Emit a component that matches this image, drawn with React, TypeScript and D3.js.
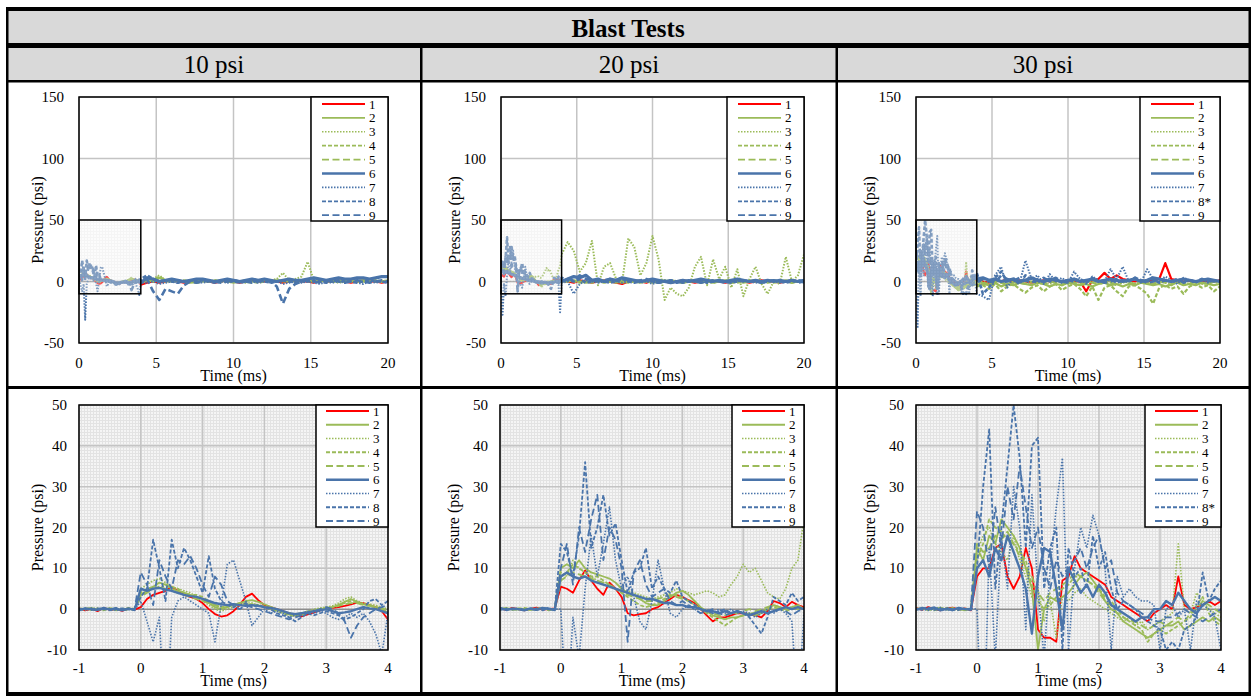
import React from 'react';
import * as d3 from 'd3';

// ---------- data ----------
const TEST_LABELS = ['10 psi', '20 psi', '30 psi'];
const LEGEND_A = ['1', '2', '3', '4', '5', '6', '7', '8', '9'];
const LEGEND_B = ['1', '2', '3', '4', '5', '6', '7', '8*', '9'];
const TOP_X_TICKS = [0, 5, 10, 15, 20];
const TOP_Y_TICKS = [-50, 0, 50, 100, 150];
const BOT_X_TICKS = [-1, 0, 1, 2, 3, 4];
const BOT_Y_TICKS = [-10, 0, 10, 20, 30, 40, 50];

// sample times: -1.0..4.0 ms every 0.1 ms, then 4.4..20 ms every 0.4 ms
const FINE_T = d3.range(51).map((i) => +(-1 + i * 0.1).toFixed(2));
const COARSE_T = d3.range(40).map((i) => +(4.4 + i * 0.4).toFixed(2));
const TIME = [...FINE_T, ...COARSE_T];

// ---- 10 psi (pressure, psi) ----
const p10_1 = [0.2,-0.3,0.1,-0.5,0.3,-0.2,0,-0.4,0.2,-0.1, 0.5,2.5,3.5,4,4.5,5.5,4.5,3.5,3,2.5,1.5,0,-1.2,-1.8,-1.5,-0.5,1,3,3.8,2.2,1,0.5,0,-0.5,-1,-1.5,-1.8,-1.3,-0.8,-0.3,0.2,0.3,0.5,0.8,1.2,1.6,1.5,1,0.5,-0.5,-2.5, -1,0,-1,0,1,0,-1,0,1,1,0,-1,0,1,0,-1,0,1,0,0,1,0,-1,0,1,0,0,-1,1,0,0,1,0,-1,0,1,0,0,-1,0];
const p10_2 = [-0.2,0.1,0.3,-0.1,0,0.2,-0.3,0.1,0,0.2, 3.5,4.5,5.5,6.5,6,5,4.5,4,3.5,3,2.5,1.5,0.5,0,0.5,1,1.5,2,2.2,1.8,1.2,0.6,0,-0.6,-1.2,-1.5,-1.2,-0.8,-0.5,0,0.3,0.5,1,1.8,2.5,1.8,1.2,1,0.5,0,-0.8, 1,0,3,1,0,1,0,-1,0,1,0,0,1,0,-1,0,1,0,0,1,0,1,0,0,1,0,1,0,0,1,1,0,0,1,0,1,1,0,0,1];
const p10_3 = [0.1,-0.2,0,0.3,-0.1,0.2,0,-0.2,0.1,0, 5,6,7,7.5,6.5,5.5,5,4.5,4,3,2,1,0,-0.5,0,0.5,1,1.5,1.5,1,0.8,0.2,-0.3,-0.8,-1.3,-1.5,-1,-0.5,0,0.3,0.5,0.8,1.5,2.5,3,2,1.5,1.2,1,0.5,0, 0,2,5,1,0,1,0,-1,0,1,0,1,0,0,1,0,-1,0,1,0,1,2,7,1,2,4,16,1,0,1,0,-1,0,1,0,0,1,0,1,0];
const p10_4 = [0,0.2,-0.1,0.1,-0.3,0.2,0.1,-0.1,0.3,0, 4,5,5.5,5,6,5.5,5,4,3.5,3.5,3,2,1,0.5,0.8,1.2,1.5,1.5,1.2,1,0.5,0,-0.5,-1,-1.5,-1.8,-1.5,-1,-0.5,0,0,0.5,1,1.5,2,1.5,1.2,0.8,0.5,0.2,-0.5, 2,1,4,1,0,0,1,0,-1,0,1,0,0,1,0,0,1,0,-1,0,0,1,0,1,0,1,1,0,0,1,0,0,1,0,0,1,0,1,0,0];
const p10_5 = [0.2,0,-0.2,0.1,0,-0.1,0.2,0,-0.3,0.1, 3,4,5,5.5,5,4.5,4,3.5,3,2.5,2,1.5,1,0.5,0.5,1,1.2,1,1,0.8,0.5,0.2,-0.2,-0.5,-1,-1.2,-1,-0.6,-0.3,0,0.2,0.4,0.8,1.2,1.5,1.5,1,0.8,0.5,0.2,0, 1,0,1,0,0,1,0,0,-1,0,0,1,0,0,1,0,0,-1,0,1,0,0,1,0,0,1,0,0,1,0,0,1,0,0,1,0,0,1,0,0];
const p10_6 = [-0.3,0.2,0,-0.2,0.3,-0.1,0.1,-0.3,0.2,-0.2, 5,4.5,5,5.2,4.8,4.5,4,3.5,3.2,3,2.5,2,1.5,1.2,1,1.2,1,0.8,1,0.8,0.5,0.3,0,-0.5,-1,-1.2,-1,-0.8,-0.5,-0.3,0,-0.5,-1,-0.8,-0.5,0,0.5,0.2,0,-0.5,-1, 3,2,0,1,2,1,0,1,2,2,1,0,1,2,1,0,1,2,1,2,1,0,1,2,1,1,2,3,2,1,2,3,2,2,3,3,2,3,4,4];
const p10_7 = [0,-0.2,0.3,0,-0.1,0.2,-0.3,0.1,0,-0.2, 2,-3,-8,-2,-31,-2,2,3,2,1,0,-1,-8,1,11,12,7,2,-4,-2,0,-1,-0.5,-1,-2,-1.5,-1,-0.5,-1,-0.5,-1,-2,-2.5,-2,-1,-2,-1,-3,-6,-11,-1, -1,0,-2,-1,0,-1,0,1,0,-1,0,-1,0,-1,0,-1,0,0,-1,0,-1,0,-2,-1,0,-1,0,-1,-2,0,-1,0,-1,0,-1,-2,0,-1,0,-1];
const p10_8 = [0.1,0,-0.2,0.2,0,-0.3,0.1,0.2,-0.1,0, 3,5,17,10,2,17,10,15,12,8,4,13,5,2,1,0.5,1,1.5,0.5,1,0.5,0,-1,-1.5,-2,-3,-2,-1,-1.5,-1,-0.5,-1,-1.5,-2.5,-2,-1,0,2,2.5,1,2, 5,2,0,1,0,-1,0,1,0,1,0,-1,0,1,0,-1,0,0,1,0,-1,0,1,0,-1,0,0,1,0,-1,0,1,0,0,-1,0,1,0,0,-1];
const p10_9 = [-0.1,0.2,0,-0.2,0.1,0,0.3,-0.2,0,0.1, 9,6,1,12,8,5,12,11,13,10,6,3,8,6,2,1,0,1,0.5,0,-0.5,-1,-1.5,-2,-2.5,-2,-1.5,-1,-0.5,0,0.5,0,-1,-3,-7,-4,-2,-1,0,0.5,1, 2,-8,-15,-6,-8,-10,-3,0,-1,0,1,0,-1,0,1,0,0,-1,0,1,0,-4,-18,-6,-2,0,1,0,-1,0,1,0,-1,0,1,0,-1,0,1,0];

// ---- 20 psi ----
const p20_1 = [0.2,-0.2,0.3,0,-0.3,0.1,0.4,-0.1,0,0.2, 5.5,5,4,7,9.5,7,5,3.5,6.5,5,3,-1,-1.5,-1.2,-1,0,0.5,1.5,2.5,3.5,3,2.2,1.5,0,-1.5,-3,-2,-2,-1.5,-1,-1,-1.2,-1.5,-2,-0.5,2,1.5,0.5,1.8,1,0.5, 0,-1,1,0,-1,0,1,0,-1,-2,0,1,0,-1,1,0,0,-1,0,1,0,-1,0,1,0,0,-1,0,1,0,-1,0,1,0,0,-1,0,1,0,0];
const p20_2 = [0,0.3,-0.1,0.2,0,-0.2,0.1,0.3,-0.1,0, 10,11,10,12,10,9,8.5,8,7.5,6.5,5,4,3.5,2.5,1.5,1,1,2,3,4,4.5,3.5,2,0.5,-0.5,-1.5,-2,-2.5,-2,-2,-1.5,-1,-1.5,-1,0,1,0.5,0,0.5,1,0, 0,1,0,-1,0,1,0,0,-1,0,1,0,-1,0,0,1,0,-1,0,1,0,0,-1,0,1,0,0,-1,0,1,0,0,-1,0,1,0,0,-1,0,0];
const p20_3 = [0.1,0,0.2,-0.2,0.1,0,-0.1,0.2,0,-0.2, 9,8,12,10,9,8,7,6,6,5,4,4.5,4,3.5,3,2.5,3,3.5,4,5,4.5,4,3.5,4,4.5,4,3,3.5,6,8,11,9,10,7,4,3,2.5,5,10,12,22, 32,25,8,15,33,-3,12,15,2,0,35,28,5,15,37,18,-15,-5,-10,-12,-5,12,20,-3,18,2,12,-5,10,-12,2,12,-2,-10,0,-2,20,0,5,22];
const p20_4 = [0.2,0,-0.2,0.1,0.3,-0.1,0,0.2,-0.3,0.1, 8,9,11,10,9,8,8,7,6,5,4,3,2,1,0.5,1,1.5,2.5,3,3.5,3,2,1,0,-1,-2,-3,-4,-3,-2,-1.5,-1,-1,-0.5,0,0.5,0,-0.5,0,0.5,0, 1,0,-1,0,1,0,-1,0,1,0,-1,0,1,0,0,-1,0,1,0,-1,0,1,0,0,-1,0,1,0,-1,0,1,0,0,-1,0,1,0,-1,0,1];
const p20_5 = [-0.1,0.2,0,-0.2,0.1,0.3,-0.2,0,0.1,-0.1, 7,8,9,8.5,8,7.5,7,6.5,6,5,4.5,3.5,3,2.5,2,2,2.5,3,3.5,3,2.5,2,1,0,-0.5,-1,-1.5,-1.5,-1,-1,-0.5,0,-0.5,0,0.5,1,0.5,0,0.5,0,0.5, 0,1,0,0,-1,0,1,0,0,-1,0,1,0,0,-1,0,1,0,0,-1,0,1,0,0,-1,0,1,0,0,-1,0,1,0,0,-1,0,1,0,0,-1];
const p20_6 = [0.3,-0.2,0.1,0,-0.3,0.2,-0.1,0.3,0,-0.2, 8,9,8,7.5,8,7,6.5,6,5.5,5,4.5,4,3.5,3,2.5,2.5,2,1.5,1.5,1,1,0.5,0.5,0,-0.5,-0.5,-1,-0.5,-1,-0.5,-1,-1.5,-1,-0.5,-1,-0.5,0,0.5,0,0.5,0, 2,4,3,5,1,2,0,2,1,3,2,1,0,1,2,1,0,-1,0,1,0,1,2,1,0,1,0,1,2,1,0,1,0,1,0,1,0,1,0,1];
const p20_7 = [0,0.2,-0.1,0.1,-0.2,0,0.3,-0.1,0.1,0, 0,-27,-2,-12,5,18,8,16,25,12,5,8,3,-3,-5,2,12,5,-1,-2,0,1,0,-1,0,-1,0,-1,0,-1,-0.5,-1,-2,-1,0,-1,0,-1,-3,-25,-1, 0,-10,-2,1,0,-1,0,1,0,-1,0,1,-1,0,-2,0,1,0,-1,0,1,0,-1,0,1,0,-1,0,0,1,0,-1,0,1,0,-1,0,1,0,-1];
const p20_8 = [0.1,-0.1,0.2,0,-0.2,0.1,0,-0.3,0.2,0, 16,14,8,18,36,15,20,28,18,21,12,4,9,10,15,5,8,5,4,7,3,2,1,0,-0.5,-1,-0.5,0,-1,-0.5,-1,-2,-4,-6,-2,3,2,1,4,2,3, 1,0,2,-1,0,1,0,-1,0,2,0,-1,0,1,0,-1,0,1,0,-1,0,0,1,-1,0,1,0,-1,0,1,0,0,-1,0,1,0,-1,0,1,0];
const p20_9 = [-0.2,0.1,0,0.2,-0.1,0,-0.2,0.1,0.3,-0.1, 10,16,6,20,14,22,28,12,20,17,10,-8,9,12,6,3,4,5,2,1,2,1,0,-1,-0.5,0,-1,-1.5,-1,-0.5,-1,-1.5,-1,-0.5,-1,-0.5,0,-0.5,-1.5,-0.5,0, 2,1,5,2,1,0,1,2,1,3,1,0,1,2,0,-1,0,1,-1,0,1,0,-1,0,1,0,-1,0,1,0,0,1,-1,0,1,0,0,1,-1,0];

// ---- 30 psi ----
const p30_1 = [0.3,-0.2,0.5,0,-0.3,0.2,0.4,-0.1,0.2,-0.3, 8,10,10,15,16,8,5,8,15,10,-5,-7,-7,-8,7,8,13,10,9,8,7,6,3,2,1,0,-1,-2,-3,-1,0,1,0,8,1,0,0.5,1,2,1,2, 0,-1,1,0,2,0,1,0,-1,0,1,0,1,0,1,0,0,-8,1,2,7,2,5,2,1,0,1,0,1,2,15,2,1,0,1,0,1,0,0,1];
const p30_2 = [0,0.3,-0.2,0.1,0.4,-0.1,0,0.2,-0.3,0.1, 15,12,18,16,22,20,18,15,10,5,-10,0,3,2,3,4,6,8,9,7,5,2,0,-1,-3,-4,-5,-6,-7,-6,-5,-4,-4,-3,-5,-4,-3,-2,-3,-2,-3, -2,-3,-1,-4,-2,-3,-1,-2,-3,-1,-2,-4,-2,-3,-1,-2,-3,-2,-4,-2,-1,-3,-2,-4,-2,-3,-1,-2,-3,-2,-4,-2,-1,-3,-2,-3,-1,-2,-3,-2];
const p30_3 = [0.2,-0.1,0,0.3,-0.2,0.1,0,-0.3,0.2,0, 14,18,20,16,14,12,18,12,8,3,5,-3,2,-7,3,2,4,5,3,2,1,0,-1,-2,-3,-2,-4,-3,-5,-4,-3,-2,-1,16,0,-1,4,2,0,-1,-2, 0,-2,1,-1,0,-3,-1,0,-2,1,-1,-2,0,-1,-2,0,-3,-1,0,-2,-1,0,-3,-1,0,-2,1,-1,-2,0,-1,-2,0,-3,-1,0,-2,-1,0,-2];
const p30_4 = [-0.1,0.2,0,-0.3,0.1,0.3,0,-0.2,0.1,0, 12,16,22,20,19,17,16,14,12,6,2,0,1,3,5,6,8,8,7,6,5,3,2,0,-2,-3,-4,-5,-8,-6,-5,-6,-5,-4,-3,-2,1,3,-1,-3,-4, -3,-6,-2,-8,-4,-2,-6,-9,-5,-3,-8,-4,-2,-7,-4,-2,-6,-12,-4,-15,-5,-3,-8,-12,-4,-3,-6,-10,-18,-5,-3,-6,-4,-10,-4,-2,-5,-3,-8,-4];
const p30_5 = [0.1,0,-0.2,0.2,0,-0.1,0.3,0,-0.2,0.1, 16,14,15,18,17,19,16,13,10,8,4,2,4,5,6,7,9,8,7,6,4,2,1,-1,-2,-3,-3,-4,-5,-4,-3,-4,-3,-2,-3,-1,0,2,1,0,-1, -1,-2,0,-1,-3,0,-1,-2,0,-1,-2,0,-1,-3,0,-1,-2,0,-1,-2,0,-1,-3,0,-1,-2,0,-1,-2,0,-1,-3,0,-1,-2,0,-1,-2,0,-1];
const p30_6 = [-0.2,0.3,0,0.4,-0.3,0.1,-0.2,0.3,0,-0.1, 10,12,8,15,12,18,14,10,5,-6,8,15,14,5,-5,10,7,4,6,3,6,4,1,0,-1,-2,-3,-2,-2,0,0,2,1,4,2,0,-1,1,2,3,2, 3,1,2,0,1,2,0,1,3,1,0,2,1,0,1,2,0,1,2,0,1,2,1,0,1,2,0,1,3,2,1,0,1,2,1,0,1,2,1,0];
const p30_7 = [0.2,0,-0.3,0.1,0.4,-0.2,0,0.3,-0.1,0.2, 0,-38,15,-12,18,5,30,20,-5,28,5,-12,10,25,37,-10,10,20,15,23,18,10,-10,8,3,5,3,2,2,1,-10,0,1,-2,0,-10,2,1,0,-2,-10, -12,-15,5,12,-5,3,-2,17,2,5,-2,6,0,3,-1,8,2,-2,4,1,0,10,2,12,0,3,-1,10,2,0,4,1,-2,3,1,0,2,-1,1,0];
const p30_8 = [0,0.2,0.4,-0.2,0.1,0,-0.3,0.2,0.1,-0.2, 10,30,44,5,20,35,50,37,15,40,42,5,15,20,-10,15,8,10,5,18,10,14,5,0,2,1,0,-2,-3,-4,-5,-10,-8,-10,-5,-4,-2,9,2,5,7, -10,-5,3,8,0,2,-2,5,1,-1,3,0,2,-1,1,0,2,-1,3,0,1,2,-1,1,0,3,1,0,2,-1,1,0,2,0,1,-1,2,0,1,0];
const p30_9 = [0.1,-0.2,0.2,0,-0.1,0.3,0,-0.2,0.2,0, 24,20,10,25,15,30,22,35,25,15,20,10,5,12,8,10,12,15,10,15,18,10,12,4,2,1,0,-1,-2,-3,-3,-2,-2,-1,0,-1,-2,-3,-2,-1,0, 2,0,-1,5,2,0,3,1,-1,2,0,1,3,0,-1,2,1,0,2,1,-1,0,2,1,0,3,1,-1,0,2,1,0,2,-1,1,0,2,1,0,1];

const TEST_DATA = [
  [p10_1, p10_2, p10_3, p10_4, p10_5, p10_6, p10_7, p10_8, p10_9],
  [p20_1, p20_2, p20_3, p20_4, p20_5, p20_6, p20_7, p20_8, p20_9],
  [p30_1, p30_2, p30_3, p30_4, p30_5, p30_6, p30_7, p30_8, p30_9],
];

// ---------- styles ----------
const FONT = '"Liberation Serif", "Times New Roman", serif';
const RED = '#ff0000';
const GREEN = '#9bbb59';
const BLUE = '#4a74aa';
const COLORS = [RED, GREEN, GREEN, GREEN, GREEN, BLUE, BLUE, BLUE, BLUE];
const DASHES = [undefined, undefined, '1.5,1.5', '4,2', '7,3.5', undefined, '1.5,1.5', '4,2', '7,3.5'];
const WIDTHS = [1.8, 1.8, 1.6, 1.8, 1.8, 2.4, 1.6, 1.8, 1.8];
const TOP_WIDTHS = [2.2, 2.2, 2, 2.2, 2.2, 3.2, 2, 2.6, 2.6];

const COLS = [
  { top: [79, 388], bot: [79, 388], yLab: 42, center: 214 },
  { top: [501, 804], bot: [500, 804], yLab: 47, center: 629 },
  { top: [916, 1220], bot: [916, 1221], yLab: 47, center: 1043 },
];
const TOP_Y = [97, 343];
const BOT_Y = [405, 650];

type PanelProps = {
  id: string;
  x0: number; x1: number; y0: number; y1: number;
  xDomain: [number, number]; yDomain: [number, number];
  xTicks: number[]; yTicks: number[];
  series: number[][];
  labels: string[];
  isTop: boolean;
  yLabOffset: number;
};

function Panel(p: PanelProps) {
  const x = d3.scaleLinear().domain(p.xDomain).range([p.x0, p.x1]);
  const y = d3.scaleLinear().domain(p.yDomain).range([p.y1, p.y0]);
  const line = d3.line<number>().x((_, i) => x(TIME[i])).y((v) => y(v));
  const clip = `clip-${p.id}`;
  const star = p.labels.some((l) => l.length > 1);
  const legW = p.isTop ? (star ? 80 : 77) : (star ? 76 : 72);
  const legH = p.isTop ? 124 : 122;
  const rowH = p.isTop ? 13.9 : 13.75;
  const lx0 = p.x1 - legW;
  const lineA = lx0 + (p.isTop ? 11 : 10);
  const lineB = lineA + 43;
  const tickGap = p.isTop ? 15 : 12;
  const midY = (p.y0 + p.y1) / 2;
  const widths = p.isTop ? TOP_WIDTHS : WIDTHS;
  return (
    <g>
      <defs>
        <clipPath id={clip}>
          <rect x={p.x0} y={p.y0} width={p.x1 - p.x0} height={p.y1 - p.y0} />
        </clipPath>
      </defs>
      <rect x={p.x0} y={p.y0} width={p.x1 - p.x0} height={p.y1 - p.y0}
        fill={p.isTop ? '#ffffff' : 'url(#fineGrid)'} />
      {p.xTicks.map((t) => (
        <line key={'gx' + t} x1={x(t)} x2={x(t)} y1={p.y0} y2={p.y1} stroke="#c4c4c4" strokeWidth={1.5} />
      ))}
      {p.yTicks.map((t) => (
        <line key={'gy' + t} x1={p.x0} x2={p.x1} y1={y(t)} y2={y(t)}
          stroke={t === 0 ? '#8c8c8c' : '#c4c4c4'} strokeWidth={1.5} />
      ))}
      <g clipPath={`url(#${clip})`}>
        {p.series.map((s, i) => (
          <path key={i} d={line(s) || ''} fill="none" stroke={COLORS[i]} strokeWidth={widths[i]}
            strokeDasharray={DASHES[i]} strokeLinejoin="round" />
        ))}
      </g>
      {p.isTop && (
        <rect x={x(0)} y={y(50)} width={x(4) - x(0)} height={y(-10) - y(50)}
          fill="url(#fineGrid)" fillOpacity={0.35} stroke="#000" strokeWidth={1.5} />
      )}
      <rect x={p.x0} y={p.y0} width={p.x1 - p.x0} height={p.y1 - p.y0} fill="none" stroke="#000" strokeWidth={1.5} />
      {/* legend */}
      <rect x={lx0} y={p.y0} width={legW} height={legH} fill="#fff" stroke="#000" strokeWidth={1.5} />
      {p.labels.map((lab, i) => {
        const ry = p.y0 + (p.isTop ? 7 : 6) + i * rowH;
        return (
          <g key={'lg' + i}>
            <line x1={lineA} x2={lineB} y1={ry} y2={ry} stroke={COLORS[i]} strokeWidth={WIDTHS[i]}
              strokeDasharray={DASHES[i]} />
            <text x={lineB + 4} y={ry} dominantBaseline="central" fontFamily={FONT} fontSize={13} fill="#000">{lab}</text>
          </g>
        );
      })}
      {/* y tick labels */}
      {p.yTicks.map((t) => (
        <text key={'yl' + t} x={p.x0 - tickGap} y={y(t)} textAnchor="end" dominantBaseline="central"
          fontFamily={FONT} fontSize={15} fill="#000">{t}</text>
      ))}
      {/* x tick labels */}
      {p.xTicks.map((t) => (
        <text key={'xl' + t} x={x(t)} y={p.y1 + (p.isTop ? 25 : 23)} textAnchor="middle"
          fontFamily={FONT} fontSize={15} fill="#000">{t}</text>
      ))}
      <text x={(p.x0 + p.x1) / 2} y={p.y1 + (p.isTop ? 38 : 36)} textAnchor="middle" fontFamily={FONT} fontSize={16} fill="#000">Time (ms)</text>
      <text transform={`translate(${p.x0 - p.yLabOffset},${midY}) rotate(-90)`} textAnchor="middle"
        dominantBaseline="central" fontFamily={FONT} fontSize={16} fill="#000">Pressure (psi)</text>
    </g>
  );
}

export default function App() {
  return (
    <div style={{ position: 'absolute', left: 0, top: 0 }}>
      <svg width={1253} height={696} style={{ display: 'block', background: '#fff' }}>
        <defs>
          <pattern id="fineGrid" width="3" height="3" patternUnits="userSpaceOnUse">
            <rect width="3" height="3" fill="#f5f5f5" />
            <rect width="3" height="1" fill="#e3e3e3" />
            <rect width="1" height="3" fill="#e3e3e3" />
          </pattern>
        </defs>
        {/* header rows */}
        <rect x={8} y={11} width={1241} height={32} fill="#d9d9d9" />
        <rect x={8} y={48} width={1241} height={32} fill="#d9d9d9" />
        <text x={628} y={37} textAnchor="middle" fontFamily={FONT} fontSize={25} fontWeight="bold" fill="#000">Blast Tests</text>
        {TEST_LABELS.map((t, i) => (
          <text key={t} x={COLS[i].center} y={73} textAnchor="middle" fontFamily={FONT} fontSize={25} fill="#000">{t}</text>
        ))}
        {/* panels */}
        {COLS.map((c, i) => (
          <g key={'col' + i}>
            <Panel id={`t${i}`} x0={c.top[0]} x1={c.top[1]} y0={TOP_Y[0]} y1={TOP_Y[1]}
              xDomain={[0, 20]} yDomain={[-50, 150]} xTicks={TOP_X_TICKS} yTicks={TOP_Y_TICKS}
              series={TEST_DATA[i]} labels={i === 2 ? LEGEND_B : LEGEND_A} isTop={true} yLabOffset={c.yLab} />
            <Panel id={`b${i}`} x0={c.bot[0]} x1={c.bot[1]} y0={BOT_Y[0]} y1={BOT_Y[1]}
              xDomain={[-1, 4]} yDomain={[-10, 50]} xTicks={BOT_X_TICKS} yTicks={BOT_Y_TICKS}
              series={TEST_DATA[i]} labels={i === 2 ? LEGEND_B : LEGEND_A} isTop={false} yLabOffset={c.yLab} />
          </g>
        ))}
        {/* table borders */}
        <rect x={6} y={7} width={1245} height={4} fill="#000" />
        <rect x={6} y={43} width={1245} height={5} fill="#000" />
        <rect x={6} y={80} width={1245} height={2.5} fill="#000" />
        <rect x={6} y={386} width={1245} height={3} fill="#000" />
        <rect x={6} y={692} width={1245} height={4} fill="#000" />
        <rect x={6} y={7} width={2.5} height={689} fill="#000" />
        <rect x={1248.5} y={7} width={2.5} height={689} fill="#000" />
        <rect x={420} y={48} width={2.5} height={648} fill="#000" />
        <rect x={835.5} y={48} width={2.5} height={648} fill="#000" />
      </svg>
    </div>
  );
}
